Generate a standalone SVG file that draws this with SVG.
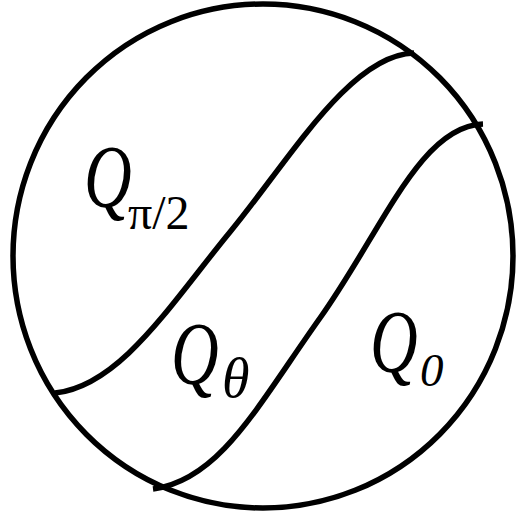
<svg xmlns="http://www.w3.org/2000/svg" width="516" height="518" viewBox="0 0 516 518">
<style>
.ln{fill:none;stroke:#000;stroke-width:5.5;stroke-linecap:butt}
.q{font-family:"Liberation Serif","Times New Roman",serif;font-style:italic;font-size:88px;fill:#000}
.s{font-family:"Liberation Serif","Times New Roman",serif;fill:#000}
</style>
<rect width="516" height="518" fill="#fff"/>
<g id="shapes">
<ellipse id="disk" class="ln" cx="263" cy="256" rx="250" ry="252"/>
<path id="boundary-pi2" class="ln" d="M55 393 C120 386 170 305 230 232 S350 55 414 53"/>
<path id="boundary-0" class="ln" d="M153 489 C220 480 258 405 320 318 S420 126 483 124"/>
</g>
<g id="labels">
<g id="label-pi2">
<text class="q" transform="translate(84,206) scale(0.75,1)">Q</text>
<text class="s" x="128" y="229" font-size="48">π/2</text>
</g>
<g id="label-theta">
<text class="q" transform="translate(171,383) scale(0.75,1)">Q</text>
<text class="s" x="222" y="397" font-size="56" font-style="italic">θ</text>
</g>
<g id="label-0">
<text class="q" transform="translate(370,371) scale(0.75,1)">Q</text>
<text class="s" x="420" y="386" font-size="47" font-style="italic">0</text>
</g>
</g>
</svg>
